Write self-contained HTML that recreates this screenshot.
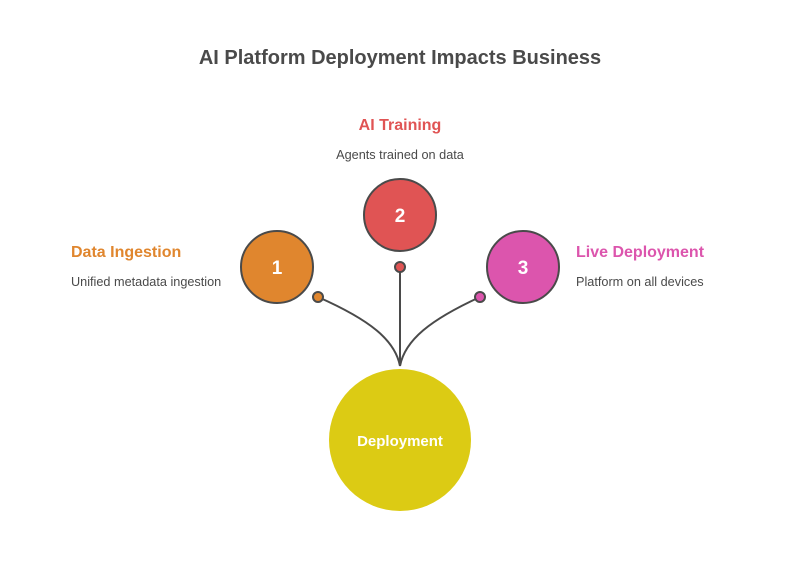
<!DOCTYPE html>
<html><head><style>
body{margin:0;background:#fff;}
svg{display:block;font-family:"Liberation Sans",sans-serif;}
</style></head><body>
<svg width="800" height="574" viewBox="0 0 800 574">
<rect width="800" height="574" fill="#fff"/>
<text x="400" y="64" text-anchor="middle" font-size="20" font-weight="bold" fill="#4a4a4a">AI Platform Deployment Impacts Business</text>
<text x="400" y="130" text-anchor="middle" font-size="16" font-weight="bold" fill="#e05454">AI Training</text>
<text x="400" y="159" text-anchor="middle" font-size="12.7" fill="#4a4a4a">Agents trained on data</text>
<text x="71" y="257" font-size="16" font-weight="bold" fill="#e0862e">Data Ingestion</text>
<text x="71" y="286" font-size="12.7" fill="#4a4a4a">Unified metadata ingestion</text>
<text x="576" y="257" font-size="16" font-weight="bold" fill="#dc55ad">Live Deployment</text>
<text x="576" y="286" font-size="12.7" fill="#4a4a4a">Platform on all devices</text>
<g fill="none" stroke="#4a4a4a" stroke-width="2">
<path d="M318 297 C370 320 395 340 400 366"/>
<path d="M400 267 L400 366"/>
<path d="M480 297 C430 320 405 340 400 366"/>
</g>
<circle cx="400" cy="440" r="71" fill="#dccb14"/>
<text x="400" y="446" text-anchor="middle" font-size="15" font-weight="bold" fill="#fff">Deployment</text>
<g stroke="#4a4a4a" stroke-width="2">
<circle cx="277" cy="267" r="36" fill="#e0862e"/>
<circle cx="400" cy="215" r="36" fill="#e05454"/>
<circle cx="523" cy="267" r="36" fill="#dc55ad"/>
<circle cx="318" cy="297" r="5" fill="#e0862e"/>
<circle cx="400" cy="267" r="5" fill="#e05454"/>
<circle cx="480" cy="297" r="5" fill="#dc55ad"/>
</g>
<g font-size="19" font-weight="bold" fill="#fff" text-anchor="middle">
<text x="277" y="274">1</text>
<text x="400" y="222">2</text>
<text x="523" y="274">3</text>
</g>
</svg>
</body></html>
